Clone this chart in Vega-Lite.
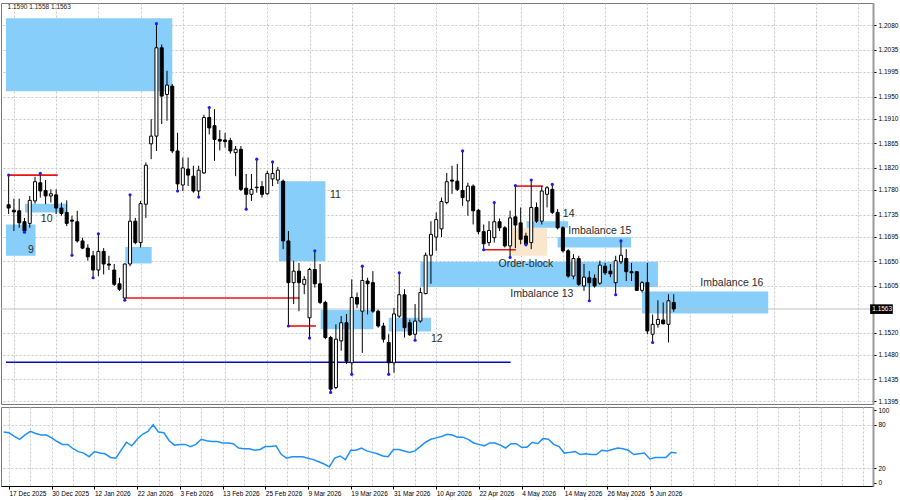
{
"$schema": "https://vega.github.io/schema/vega-lite/v6.json",
"padding": {"left": 0, "top": 2, "right": 0, "bottom": 0},
"background": "white",
"config": {"font": "Liberation Sans", "view": {"stroke": "#7a7a7a"}, "axis": {"labelOverlap": false}},
"datasets": {
"bars": [
{"t":-1,"o":1.1753,"h":1.1807,"l":1.1736,"c":1.1747,"r":70,"f":"u"},
{"t":0,"o":1.1743,"h":1.1764,"l":1.1705,"c":1.1740,"r":69},
{"t":1,"o":1.1742,"h":1.1764,"l":1.1711,"c":1.1720,"r":64},
{"t":2,"o":1.1722,"h":1.1729,"l":1.1703,"c":1.1705,"r":60,"f":"d"},
{"t":3,"o":1.1719,"h":1.1769,"l":1.1711,"c":1.1761,"r":66},
{"t":4,"o":1.1760,"h":1.1804,"l":1.1755,"c":1.1795,"r":71},
{"t":5,"o":1.1793,"h":1.1810,"l":1.1766,"c":1.1778,"r":68,"f":"u"},
{"t":6,"o":1.1779,"h":1.1798,"l":1.1754,"c":1.1769,"r":66},
{"t":7,"o":1.1769,"h":1.1781,"l":1.1757,"c":1.1773,"r":66},
{"t":8,"o":1.1771,"h":1.1781,"l":1.1736,"c":1.1747,"r":62},
{"t":9,"o":1.1747,"h":1.1757,"l":1.1733,"c":1.1737,"r":57},
{"t":10,"o":1.1739,"h":1.1761,"l":1.1714,"c":1.1719,"r":53},
{"t":11,"o":1.1725,"h":1.1733,"l":1.1661,"c":1.1723,"r":53,"f":"d"},
{"t":12,"o":1.1722,"h":1.1742,"l":1.1684,"c":1.1687,"r":47},
{"t":13,"o":1.1687,"h":1.1693,"l":1.1672,"c":1.1674,"r":43},
{"t":14,"o":1.1674,"h":1.1681,"l":1.1651,"c":1.1658,"r":41},
{"t":15,"o":1.1660,"h":1.1669,"l":1.1620,"c":1.1634,"r":36,"f":"d"},
{"t":16,"o":1.1634,"h":1.1700,"l":1.1623,"c":1.1668,"r":43,"f":"u"},
{"t":17,"o":1.1668,"h":1.1674,"l":1.1626,"c":1.1645,"r":41},
{"t":18,"o":1.1645,"h":1.1660,"l":1.1634,"c":1.1643,"r":40},
{"t":19,"o":1.1634,"h":1.1645,"l":1.1605,"c":1.1608,"r":35},
{"t":20,"o":1.1609,"h":1.1620,"l":1.1596,"c":1.1599,"r":34},
{"t":21,"o":1.1583,"h":1.1646,"l":1.1579,"c":1.1645,"r":45,"f":"d"},
{"t":22,"o":1.1645,"h":1.1771,"l":1.1641,"c":1.1723,"r":56,"f":"u"},
{"t":23,"o":1.1723,"h":1.1729,"l":1.1681,"c":1.1684,"r":51},
{"t":24,"o":1.1684,"h":1.1760,"l":1.1675,"c":1.1755,"r":60},
{"t":25,"o":1.1754,"h":1.1830,"l":1.1729,"c":1.1825,"r":67},
{"t":26,"o":1.1864,"h":1.1909,"l":1.1836,"c":1.1878,"r":71},
{"t":27,"o":1.1878,"h":1.2083,"l":1.1851,"c":1.2039,"r":80,"f":"u"},
{"t":28,"o":1.2039,"h":1.2045,"l":1.1900,"c":1.1951,"r":70},
{"t":29,"o":1.1954,"h":1.1997,"l":1.1906,"c":1.1971,"r":69},
{"t":30,"o":1.1969,"h":1.1973,"l":1.1847,"c":1.1851,"r":58},
{"t":31,"o":1.1851,"h":1.1884,"l":1.1778,"c":1.1791,"r":52,"f":"d"},
{"t":32,"o":1.1789,"h":1.1839,"l":1.1778,"c":1.1820,"r":53},
{"t":33,"o":1.1818,"h":1.1839,"l":1.1787,"c":1.1807,"r":53},
{"t":34,"o":1.1805,"h":1.1824,"l":1.1775,"c":1.1778,"r":50},
{"t":35,"o":1.1778,"h":1.1824,"l":1.1767,"c":1.1816,"r":53,"f":"d"},
{"t":36,"o":1.1811,"h":1.1917,"l":1.1809,"c":1.1912,"r":60},
{"t":37,"o":1.1912,"h":1.1930,"l":1.1881,"c":1.1893,"r":58,"f":"u"},
{"t":38,"o":1.1897,"h":1.1927,"l":1.1833,"c":1.1872,"r":57},
{"t":39,"o":1.1872,"h":1.1889,"l":1.1852,"c":1.1869,"r":57},
{"t":40,"o":1.1871,"h":1.1884,"l":1.1857,"c":1.1868,"r":55},
{"t":41,"o":1.1870,"h":1.1875,"l":1.1846,"c":1.1851,"r":55},
{"t":42,"o":1.1848,"h":1.1860,"l":1.1805,"c":1.1854,"r":54},
{"t":43,"o":1.1854,"h":1.1860,"l":1.1778,"c":1.1781,"r":48},
{"t":44,"o":1.1783,"h":1.1809,"l":1.1745,"c":1.1772,"r":47,"f":"d"},
{"t":45,"o":1.1772,"h":1.1809,"l":1.1760,"c":1.1781,"r":47},
{"t":46,"o":1.1785,"h":1.1836,"l":1.1775,"c":1.1784,"r":45,"f":"u"},
{"t":47,"o":1.1786,"h":1.1796,"l":1.1766,"c":1.1772,"r":46},
{"t":48,"o":1.1773,"h":1.1815,"l":1.1771,"c":1.1810,"r":50},
{"t":49,"o":1.1800,"h":1.1831,"l":1.1787,"c":1.1810,"r":50,"f":"u"},
{"t":50,"o":1.1798,"h":1.1822,"l":1.1791,"c":1.1816,"r":51},
{"t":51,"o":1.1796,"h":1.1799,"l":1.1672,"c":1.1687,"r":39},
{"t":52,"o":1.1687,"h":1.1705,"l":1.1532,"c":1.1611,"r":34,"f":"d"},
{"t":53,"o":1.1611,"h":1.1651,"l":1.1572,"c":1.1632,"r":36},
{"t":54,"o":1.1632,"h":1.1647,"l":1.1559,"c":1.1611,"r":36},
{"t":55,"o":1.1608,"h":1.1623,"l":1.1590,"c":1.1617,"r":36},
{"t":56,"o":1.1547,"h":1.1638,"l":1.1510,"c":1.1635,"r":34,"f":"d"},
{"t":57,"o":1.1635,"h":1.1669,"l":1.1602,"c":1.1609,"r":32,"f":"u"},
{"t":58,"o":1.1609,"h":1.1645,"l":1.1572,"c":1.1575,"r":29},
{"t":59,"o":1.1575,"h":1.1578,"l":1.1508,"c":1.1511,"r":26},
{"t":60,"o":1.1511,"h":1.1514,"l":1.1411,"c":1.1417,"r":22,"f":"d"},
{"t":61,"o":1.1420,"h":1.1535,"l":1.1417,"c":1.1508,"r":34},
{"t":62,"o":1.1505,"h":1.1550,"l":1.1487,"c":1.1538,"r":37},
{"t":63,"o":1.1538,"h":1.1554,"l":1.1463,"c":1.1468,"r":32},
{"t":64,"o":1.1465,"h":1.1617,"l":1.1444,"c":1.1584,"r":45,"f":"d"},
{"t":65,"o":1.1584,"h":1.1593,"l":1.1565,"c":1.1572,"r":45},
{"t":66,"o":1.1559,"h":1.1641,"l":1.1483,"c":1.1615,"r":48,"f":"u"},
{"t":67,"o":1.1614,"h":1.1620,"l":1.1553,"c":1.1609,"r":44},
{"t":68,"o":1.1611,"h":1.1632,"l":1.1556,"c":1.1559,"r":42},
{"t":69,"o":1.1559,"h":1.1562,"l":1.1529,"c":1.1532,"r":40},
{"t":70,"o":1.1532,"h":1.1538,"l":1.1502,"c":1.1508,"r":37},
{"t":71,"o":1.1502,"h":1.1517,"l":1.1444,"c":1.1465,"r":36,"f":"d"},
{"t":72,"o":1.1465,"h":1.1565,"l":1.1447,"c":1.1554,"r":46},
{"t":73,"o":1.1550,"h":1.1629,"l":1.1547,"c":1.1589,"r":46,"f":"u"},
{"t":74,"o":1.1589,"h":1.1599,"l":1.1511,"c":1.1529,"r":44},
{"t":75,"o":1.1538,"h":1.1544,"l":1.1514,"c":1.1516,"r":42},
{"t":76,"o":1.1517,"h":1.1572,"l":1.1506,"c":1.1541,"r":44,"f":"d"},
{"t":77,"o":1.1541,"h":1.1602,"l":1.1538,"c":1.1593,"r":50},
{"t":78,"o":1.1591,"h":1.1666,"l":1.1590,"c":1.1661,"r":56},
{"t":79,"o":1.1661,"h":1.1723,"l":1.1609,"c":1.1699,"r":60},
{"t":80,"o":1.1694,"h":1.1739,"l":1.1669,"c":1.1726,"r":62},
{"t":81,"o":1.1709,"h":1.1766,"l":1.1694,"c":1.1759,"r":64},
{"t":82,"o":1.1757,"h":1.1811,"l":1.1754,"c":1.1795,"r":67},
{"t":83,"o":1.1798,"h":1.1824,"l":1.1773,"c":1.1796,"r":66},
{"t":84,"o":1.1796,"h":1.1827,"l":1.1778,"c":1.1781,"r":63},
{"t":85,"o":1.1779,"h":1.1851,"l":1.1751,"c":1.1766,"r":63,"f":"u"},
{"t":86,"o":1.1760,"h":1.1793,"l":1.1733,"c":1.1787,"r":60},
{"t":87,"o":1.1787,"h":1.1790,"l":1.1717,"c":1.1742,"r":55},
{"t":88,"o":1.1743,"h":1.1745,"l":1.1699,"c":1.1704,"r":53},
{"t":89,"o":1.1704,"h":1.1717,"l":1.1671,"c":1.1682,"r":51,"f":"d"},
{"t":90,"o":1.1684,"h":1.1723,"l":1.1678,"c":1.1706,"r":55},
{"t":91,"o":1.1693,"h":1.1757,"l":1.1684,"c":1.1722,"r":55,"f":"u"},
{"t":92,"o":1.1722,"h":1.1728,"l":1.1705,"c":1.1711,"r":52},
{"t":93,"o":1.1711,"h":1.1714,"l":1.1675,"c":1.1678,"r":48},
{"t":94,"o":1.1678,"h":1.1742,"l":1.1657,"c":1.1729,"r":54,"f":"d"},
{"t":95,"o":1.1731,"h":1.1788,"l":1.1674,"c":1.1716,"r":54,"f":"u"},
{"t":96,"o":1.1720,"h":1.1748,"l":1.1681,"c":1.1690,"r":49},
{"t":97,"o":1.1696,"h":1.1702,"l":1.1680,"c":1.1681,"r":49,"f":"d"},
{"t":98,"o":1.1684,"h":1.1798,"l":1.1672,"c":1.1748,"r":56,"f":"u"},
{"t":99,"o":1.1748,"h":1.1757,"l":1.1720,"c":1.1723,"r":54},
{"t":100,"o":1.1723,"h":1.1787,"l":1.1717,"c":1.1778,"r":61},
{"t":101,"o":1.1772,"h":1.1787,"l":1.1748,"c":1.1784,"r":60},
{"t":102,"o":1.1781,"h":1.1790,"l":1.1736,"c":1.1739,"r":53,"f":"u"},
{"t":103,"o":1.1739,"h":1.1745,"l":1.1708,"c":1.1711,"r":50},
{"t":104,"o":1.1711,"h":1.1714,"l":1.1666,"c":1.1669,"r":41},
{"t":105,"o":1.1669,"h":1.1672,"l":1.1620,"c":1.1623,"r":42},
{"t":106,"o":1.1623,"h":1.1663,"l":1.1617,"c":1.1655,"r":43},
{"t":107,"o":1.1655,"h":1.1660,"l":1.1605,"c":1.1608,"r":39},
{"t":108,"o":1.1605,"h":1.1645,"l":1.1596,"c":1.1621,"r":40},
{"t":109,"o":1.1620,"h":1.1632,"l":1.1578,"c":1.1611,"r":39,"f":"d"},
{"t":110,"o":1.1619,"h":1.1626,"l":1.1602,"c":1.1605,"r":39},
{"t":111,"o":1.1610,"h":1.1651,"l":1.1607,"c":1.1643,"r":45},
{"t":112,"o":1.1641,"h":1.1647,"l":1.1625,"c":1.1629,"r":44},
{"t":113,"o":1.1632,"h":1.1645,"l":1.1621,"c":1.1627,"r":46},
{"t":114,"o":1.1611,"h":1.1660,"l":1.1589,"c":1.1651,"r":48,"f":"d"},
{"t":115,"o":1.1649,"h":1.1687,"l":1.1645,"c":1.1661,"r":47,"f":"u"},
{"t":116,"o":1.1655,"h":1.1672,"l":1.1614,"c":1.1631,"r":45},
{"t":117,"o":1.1631,"h":1.1647,"l":1.1614,"c":1.1629,"r":39},
{"t":118,"o":1.1631,"h":1.1632,"l":1.1596,"c":1.1597,"r":40},
{"t":119,"o":1.1597,"h":1.1614,"l":1.1593,"c":1.1611,"r":41},
{"t":120,"o":1.1611,"h":1.1647,"l":1.1517,"c":1.1523,"r":33},
{"t":121,"o":1.1517,"h":1.1553,"l":1.1502,"c":1.1535,"r":35,"f":"d"},
{"t":122,"o":1.1535,"h":1.1579,"l":1.1529,"c":1.1544,"r":35},
{"t":123,"o":1.1543,"h":1.1575,"l":1.1535,"c":1.1536,"r":35},
{"t":124,"o":1.1535,"h":1.1590,"l":1.1502,"c":1.1578,"r":42},
{"t":125,"o":1.1575,"h":1.1590,"l":1.1558,"c":1.1563,"r":41}
],
"boxes": [
{"a":-1.5,"b":30.0,"top":1.2093,"bot":1.1960,"k":"i"},
{"a":-1.5,"b":4.1,"top":1.1717,"bot":1.1660,"k":"i"},
{"a":2.1,"b":10.1,"top":1.1755,"bot":1.1739,"k":"i"},
{"a":21.1,"b":26.1,"top":1.1676,"bot":1.1646,"k":"i"},
{"a":50.2,"b":59.0,"top":1.1796,"bot":1.1650,"k":"i"},
{"a":58.1,"b":68.1,"top":1.1561,"bot":1.1526,"k":"i"},
{"a":71.0,"b":79.0,"top":1.1547,"bot":1.1522,"k":"i"},
{"a":77.0,"b":122.0,"top":1.1649,"bot":1.1603,"k":"i"},
{"a":93.7,"b":101.0,"top":1.1711,"bot":1.1660,"k":"o"},
{"a":97.1,"b":105.0,"top":1.1723,"bot":1.1711,"k":"i"},
{"a":103.0,"b":116.9,"top":1.1694,"bot":1.1675,"k":"i"},
{"a":119.0,"b":142.9,"top":1.1595,"bot":1.1555,"k":"i"}
],
"lines": [
{"a":-0.9,"b":8.3,"p":1.1807,"k":"r"},
{"a":21.1,"b":54.1,"p":1.1583,"k":"r"},
{"a":52.1,"b":57.2,"p":1.1532,"k":"r"},
{"a":89.0,"b":95.1,"p":1.1671,"k":"r"},
{"a":94.9,"b":100.2,"p":1.1787,"k":"r"},
{"a":-1.5,"b":94.1,"p":1.1466,"k":"b"}
],
"notes": [
{"s":"9","t":3.2,"p":1.1671},
{"s":"10","t":6.2,"p":1.1727},
{"s":"11","t":60.9,"p":1.1770},
{"s":"12","t":80.1,"p":1.1509},
{"s":"14","t":105.1,"p":1.1737},
{"s":"Imbalance 15","t":111.0,"p":1.1706},
{"s":"Order-block","t":97.0,"p":1.1645},
{"s":"Imbalance 13","t":100.0,"p":1.1591},
{"s":"Imbalance 16","t":136.0,"p":1.1610}
],
"quote": [{"t":-1.2,"p":1.21133,"s":"1.1590 1.1558 1.1563","a":162.2,"b":166.5,"lo":1.15540,"hi":1.15715,"q":1.1563,"x":162.6}]
},
"spacing": 0,
"vconcat": [
{
"width": 872,
"height": 401,
"layer": [
{
"data": {"name": "boxes"},
"mark": {"type": "rect"},
"encoding": {
"x": {"field": "a", "type": "quantitative", "scale": {"domain": [-1.5, 161.8], "nice": false, "zero": false},
"axis": {"values": [0,4,8,12,16,20,24,28,32,36,40,44,48,52,56,60,64,68,72,76,80,84,88,92,96,100,104,108,112,116,120,124,128,132,136,140,144,148,152,156,160], "labels": false, "ticks": false, "domain": false, "grid": true, "gridDash": [2,2], "gridColor": "#c8c8c8", "title": null, "minExtent": 0, "maxExtent": 0, "offset": 0}},
"x2": {"field": "b"},
"y": {"field": "top", "type": "quantitative", "scale": {"domain": [1.13899, 1.21206], "nice": false, "zero": false},
"axis": {"orient": "right", "values": [1.2080,1.2035,1.1995,1.1950,1.1910,1.1865,1.1820,1.1780,1.1735,1.1695,1.1650,1.1605,1.1520,1.1480,1.1435,1.1395], "format": ".4f", "labelFontSize": 6.5, "labelColor": "#000000", "labelAlign": "left", "labelBaseline": "middle", "labelPadding": 2, "labelOverlap": false, "tickSize": 3, "tickColor": "#000000", "domainColor": "#9a9a9a", "domainWidth": 2, "grid": true, "gridDash": [2,2], "gridColor": "#c8c8c8", "title": null}},
"y2": {"field": "bot"},
"fill": {"condition": {"test": "datum.k == 'o'", "value": "#fae6cc"}, "value": "#87cefa"}
}
},
{
"data": {"name": "quote"},
"mark": {"type": "rule", "color": "#c0c0c0", "strokeWidth": 1},
"encoding": {"y": {"field": "q", "type": "quantitative",
"axis": {"orient": "right", "values": [1.2080,1.2035,1.1995,1.1950,1.1910,1.1865,1.1820,1.1780,1.1735,1.1695,1.1650,1.1605,1.1520,1.1480,1.1435,1.1395], "format": ".4f", "labelFontSize": 6.5, "labelColor": "#000000", "labelAlign": "left", "labelBaseline": "middle", "labelPadding": 2, "labelOverlap": false, "tickSize": 3, "tickColor": "#000000", "domainColor": "#9a9a9a", "domainWidth": 2, "grid": true, "gridDash": [2,2], "gridColor": "#c8c8c8", "title": null}}}
},
{
"data": {"name": "lines"},
"mark": {"type": "rule", "strokeWidth": 1.6},
"encoding": {
"x": {"field": "a", "type": "quantitative"},
"x2": {"field": "b"},
"y": {"field": "p", "type": "quantitative",
"axis": {"orient": "right", "values": [1.2080,1.2035,1.1995,1.1950,1.1910,1.1865,1.1820,1.1780,1.1735,1.1695,1.1650,1.1605,1.1520,1.1480,1.1435,1.1395], "format": ".4f", "labelFontSize": 6.5, "labelColor": "#000000", "labelAlign": "left", "labelBaseline": "middle", "labelPadding": 2, "labelOverlap": false, "tickSize": 3, "tickColor": "#000000", "domainColor": "#9a9a9a", "domainWidth": 2, "grid": true, "gridDash": [2,2], "gridColor": "#c8c8c8", "title": null}},
"color": {"condition": {"test": "datum.k == 'b'", "value": "#0a0acc"}, "value": "#ee1111"}
}
},
{
"data": {"name": "bars"},
"mark": {"type": "rule", "color": "#000000", "strokeWidth": 1},
"encoding": {
"x": {"field": "t", "type": "quantitative"},
"y": {"field": "l", "type": "quantitative",
"axis": {"orient": "right", "values": [1.2080,1.2035,1.1995,1.1950,1.1910,1.1865,1.1820,1.1780,1.1735,1.1695,1.1650,1.1605,1.1520,1.1480,1.1435,1.1395], "format": ".4f", "labelFontSize": 6.5, "labelColor": "#000000", "labelAlign": "left", "labelBaseline": "middle", "labelPadding": 2, "labelOverlap": false, "tickSize": 3, "tickColor": "#000000", "domainColor": "#9a9a9a", "domainWidth": 2, "grid": true, "gridDash": [2,2], "gridColor": "#c8c8c8", "title": null}},
"y2": {"field": "h"}
}
},
{
"data": {"name": "bars"},
"mark": {"type": "bar", "width": 3, "stroke": "#000000", "strokeWidth": 1},
"encoding": {
"x": {"field": "t", "type": "quantitative"},
"y": {"field": "o", "type": "quantitative",
"axis": {"orient": "right", "values": [1.2080,1.2035,1.1995,1.1950,1.1910,1.1865,1.1820,1.1780,1.1735,1.1695,1.1650,1.1605,1.1520,1.1480,1.1435,1.1395], "format": ".4f", "labelFontSize": 6.5, "labelColor": "#000000", "labelAlign": "left", "labelBaseline": "middle", "labelPadding": 2, "labelOverlap": false, "tickSize": 3, "tickColor": "#000000", "domainColor": "#9a9a9a", "domainWidth": 2, "grid": true, "gridDash": [2,2], "gridColor": "#c8c8c8", "title": null}},
"y2": {"field": "c"},
"fill": {"condition": {"test": "datum.c >= datum.o", "value": "#ffffff"}, "value": "#000000"}
}
},
{
"data": {"name": "bars"},
"transform": [{"filter": "datum.f == 'u'"}],
"mark": {"type": "circle", "size": 10, "color": "#1a1aff", "opacity": 1},
"encoding": {
"x": {"field": "t", "type": "quantitative"},
"y": {"field": "h", "type": "quantitative",
"axis": {"orient": "right", "values": [1.2080,1.2035,1.1995,1.1950,1.1910,1.1865,1.1820,1.1780,1.1735,1.1695,1.1650,1.1605,1.1520,1.1480,1.1435,1.1395], "format": ".4f", "labelFontSize": 6.5, "labelColor": "#000000", "labelAlign": "left", "labelBaseline": "middle", "labelPadding": 2, "labelOverlap": false, "tickSize": 3, "tickColor": "#000000", "domainColor": "#9a9a9a", "domainWidth": 2, "grid": true, "gridDash": [2,2], "gridColor": "#c8c8c8", "title": null}}
}
},
{
"data": {"name": "bars"},
"transform": [{"filter": "datum.f == 'd'"}],
"mark": {"type": "circle", "size": 10, "color": "#1a1aff", "opacity": 1},
"encoding": {
"x": {"field": "t", "type": "quantitative"},
"y": {"field": "l", "type": "quantitative",
"axis": {"orient": "right", "values": [1.2080,1.2035,1.1995,1.1950,1.1910,1.1865,1.1820,1.1780,1.1735,1.1695,1.1650,1.1605,1.1520,1.1480,1.1435,1.1395], "format": ".4f", "labelFontSize": 6.5, "labelColor": "#000000", "labelAlign": "left", "labelBaseline": "middle", "labelPadding": 2, "labelOverlap": false, "tickSize": 3, "tickColor": "#000000", "domainColor": "#9a9a9a", "domainWidth": 2, "grid": true, "gridDash": [2,2], "gridColor": "#c8c8c8", "title": null}}
}
},
{
"data": {"name": "notes"},
"mark": {"type": "text", "fontSize": 10.5, "color": "#2b2b2b", "align": "center", "baseline": "middle"},
"encoding": {
"x": {"field": "t", "type": "quantitative"},
"y": {"field": "p", "type": "quantitative",
"axis": {"orient": "right", "values": [1.2080,1.2035,1.1995,1.1950,1.1910,1.1865,1.1820,1.1780,1.1735,1.1695,1.1650,1.1605,1.1520,1.1480,1.1435,1.1395], "format": ".4f", "labelFontSize": 6.5, "labelColor": "#000000", "labelAlign": "left", "labelBaseline": "middle", "labelPadding": 2, "labelOverlap": false, "tickSize": 3, "tickColor": "#000000", "domainColor": "#9a9a9a", "domainWidth": 2, "grid": true, "gridDash": [2,2], "gridColor": "#c8c8c8", "title": null}},
"text": {"field": "s"}
}
},
{
"data": {"name": "quote"},
"mark": {"type": "text", "fontSize": 6.5, "color": "#222222", "align": "left", "baseline": "middle"},
"encoding": {"x": {"field": "t", "type": "quantitative"}, "y": {"field": "p", "type": "quantitative",
"axis": {"orient": "right", "values": [1.2080,1.2035,1.1995,1.1950,1.1910,1.1865,1.1820,1.1780,1.1735,1.1695,1.1650,1.1605,1.1520,1.1480,1.1435,1.1395], "format": ".4f", "labelFontSize": 6.5, "labelColor": "#000000", "labelAlign": "left", "labelBaseline": "middle", "labelPadding": 2, "labelOverlap": false, "tickSize": 3, "tickColor": "#000000", "domainColor": "#9a9a9a", "domainWidth": 2, "grid": true, "gridDash": [2,2], "gridColor": "#c8c8c8", "title": null}}, "text": {"field": "s"}}
},
{
"data": {"name": "quote"},
"mark": {"type": "rect", "color": "#000000", "clip": false},
"encoding": {"x": {"field": "a", "type": "quantitative"}, "x2": {"field": "b"}, "y": {"field": "hi", "type": "quantitative",
"axis": {"orient": "right", "values": [1.2080,1.2035,1.1995,1.1950,1.1910,1.1865,1.1820,1.1780,1.1735,1.1695,1.1650,1.1605,1.1520,1.1480,1.1435,1.1395], "format": ".4f", "labelFontSize": 6.5, "labelColor": "#000000", "labelAlign": "left", "labelBaseline": "middle", "labelPadding": 2, "labelOverlap": false, "tickSize": 3, "tickColor": "#000000", "domainColor": "#9a9a9a", "domainWidth": 2, "grid": true, "gridDash": [2,2], "gridColor": "#c8c8c8", "title": null}}, "y2": {"field": "lo"}}
},
{
"data": {"name": "quote"},
"mark": {"type": "text", "fontSize": 6.5, "color": "#ffffff", "align": "left", "baseline": "middle", "clip": false},
"encoding": {"x": {"field": "x", "type": "quantitative"}, "y": {"field": "q", "type": "quantitative",
"axis": {"orient": "right", "values": [1.2080,1.2035,1.1995,1.1950,1.1910,1.1865,1.1820,1.1780,1.1735,1.1695,1.1650,1.1605,1.1520,1.1480,1.1435,1.1395], "format": ".4f", "labelFontSize": 6.5, "labelColor": "#000000", "labelAlign": "left", "labelBaseline": "middle", "labelPadding": 2, "labelOverlap": false, "tickSize": 3, "tickColor": "#000000", "domainColor": "#9a9a9a", "domainWidth": 2, "grid": true, "gridDash": [2,2], "gridColor": "#c8c8c8", "title": null}}, "text": {"field": "q", "format": ".4f"}}
}
]
},
{
"width": 872,
"height": 79,
"data": {"name": "bars"},
"mark": {"type": "line", "color": "#1e90ff", "strokeWidth": 1.5},
"encoding": {
"x": {"field": "t", "type": "quantitative", "scale": {"domain": [-1.5, 161.8], "nice": false, "zero": false},
"axis": {"values": [0,4,8,12,16,20,24,28,32,36,40,44,48,52,56,60,64,68,72,76,80,84,88,92,96,100,104,108,112,116,120,124,128,132,136,140,144,148,152,156,160],
"labelExpr": "datum.value % 8 == 0 && datum.value <= 120 ? ['17 Dec 2025','30 Dec 2025','12 Jan 2026','22 Jan 2026','3 Feb 2026','13 Feb 2026','25 Feb 2026','9 Mar 2026','19 Mar 2026','31 Mar 2026','10 Apr 2026','22 Apr 2026','4 May 2026','14 May 2026','26 May 2026','5 Jun 2026'][datum.value / 8] : ''",
"labelAlign": "left", "labelBaseline": "top", "labelFontSize": 6.5, "labelColor": "#000000", "labelPadding": 1, "labelFlush": false, "labelOverlap": false,
"tickSize": 3, "tickColor": "#000000", "tickOpacity": {"condition": {"test": "datum.value % 8 == 0 && datum.value <= 120", "value": 1}, "value": 0},
"domain": true, "domainColor": "#000000", "grid": true, "gridDash": [2,2], "gridColor": "#c8c8c8", "title": null}},
"y": {"field": "r", "type": "quantitative", "scale": {"domain": [-4.4, 104.6], "nice": false, "zero": false},
"axis": {"orient": "right", "values": [0,20,80,100], "labelFontSize": 6.5, "labelColor": "#000000", "labelAlign": "left", "labelPadding": 2, "labelOverlap": false, "tickSize": 3, "tickColor": "#000000", "domainColor": "#9a9a9a", "domainWidth": 2, "grid": true, "gridDash": [2,2], "gridColor": "#c8c8c8", "gridOpacity": {"condition": {"test": "datum.value == 20 || datum.value == 80", "value": 1}, "value": 0}, "title": null}}
}
}
]
}
